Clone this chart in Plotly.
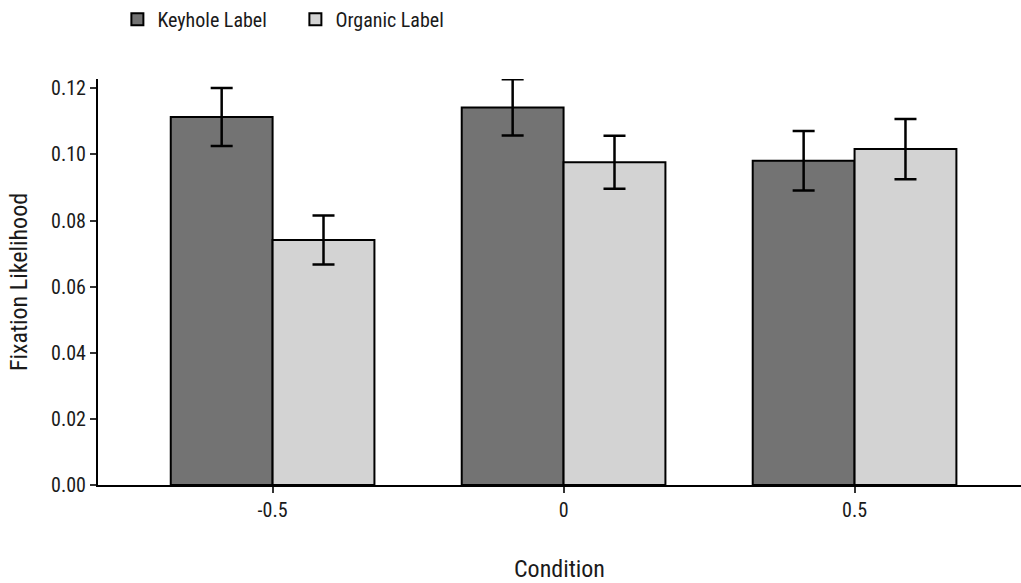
import plotly.graph_objects as go

conditions = ["-0.5", "0", "0.5"]
keyhole = [0.1113, 0.1142, 0.0981]
keyhole_err = [0.0088, 0.0085, 0.0090]
organic = [0.0741, 0.0976, 0.1016]
organic_err = [0.0074, 0.0080, 0.0091]
y_ticks = [0.0, 0.02, 0.04, 0.06, 0.08, 0.10, 0.12]

FONT = "Roboto Condensed, Liberation Sans Narrow, Roboto, sans-serif"

fig = go.Figure()
fig.add_trace(go.Bar(
    name="Keyhole Label", x=conditions, y=keyhole,
    marker=dict(color="#737373", line=dict(color="black", width=2)),
    error_y=dict(type="data", array=keyhole_err, color="black", thickness=2.5, width=11),
))
fig.add_trace(go.Bar(
    name="Organic Label", x=conditions, y=organic,
    marker=dict(color="#d3d3d3", line=dict(color="black", width=2)),
    error_y=dict(type="data", array=organic_err, color="black", thickness=2.5, width=11),
))

fig.update_layout(
    width=1021, height=583,
    margin=dict(l=98, r=0, t=79, b=98, autoexpand=False),
    plot_bgcolor="white", paper_bgcolor="white",
    barmode="group", bargap=0.3, bargroupgap=0,
    font=dict(family=FONT, size=20, color="#1a1a1a"),
    legend=dict(orientation="h", x=0.021, y=1.195, xanchor="left", yanchor="top",
                font=dict(size=20), traceorder="normal", itemwidth=30,
                entrywidth=133, entrywidthmode="pixels"),
    xaxis=dict(type="category", range=[-0.6, 2.572], showline=True, linecolor="black",
               linewidth=2, ticks="outside", ticklen=6, tickwidth=1.5, tickcolor="#333",
               tickfont=dict(size=20), automargin=False,
               title=dict(text="Condition", standoff=41), showgrid=False, zeroline=False),
    yaxis=dict(range=[0, 0.1228], tickvals=y_ticks, tickformat=".2f", showline=True,
               linecolor="black", linewidth=2, ticks="outside", ticklen=6, tickwidth=1.5,
               tickcolor="#333", tickfont=dict(size=20), automargin=False,
               title=dict(text="Fixation Likelihood", standoff=17),
               showgrid=False, zeroline=False),
)

fig.write_html(
    "out.html",
    config={"displayModeBar": False},
    post_script="document.body.style.margin='0';document.body.style.overflow='hidden';"
                "document.documentElement.style.overflow='hidden';",
)
